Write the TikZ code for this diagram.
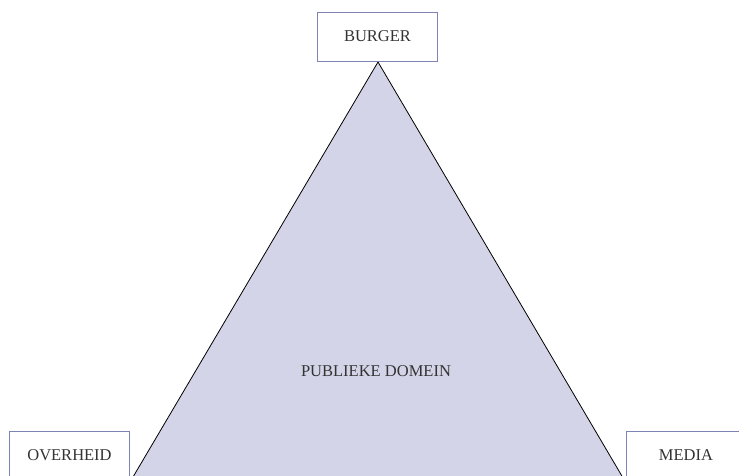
\documentclass[tikz,border=0pt]{standalone}
\usepackage{fontspec}
\setmainfont{Liberation Serif}
\usepackage{xcolor}
\usepackage{tikz}
\usetikzlibrary{positioning}

\definecolor{boxline}{HTML}{7E83B6}
\definecolor{domainfill}{HTML}{D3D4E7}
\definecolor{labeltext}{HTML}{333333}

\tikzset{
    actor/.style={
        draw=boxline,
        line width=0.8pt,
        fill=white,
        minimum width=120pt,
        minimum height=49pt,
        inner sep=0pt,
        text=labeltext,
        font=\fontsize{16.5}{18}\selectfont
    }
}

\begin{document}
\begin{tikzpicture}[x=1pt,y=-1pt]
                \useasboundingbox (0,0) rectangle (739,476);
                \clip (0,0) rectangle (739,476);

                % publieke domein
                \coordinate (top) at (378,62);
                \coordinate (left) at (133,477);
                \coordinate (right) at (622.5,477);

                \fill[fill=domainfill] (top) -- (left) -- (right) -- cycle;
                \draw[
                    line width=0.8pt
                    ] (left) -- (top) -- (right);

                \node[text=labeltext, font=\fontsize{16.5}{18}\selectfont] (domein) at (376,371) {PUBLIEKE DOMEIN};

                % actoren
                \node[actor] (burger) at (377.5,36.5) {BURGER};
                \node[actor] (overheid) at (69.5,455.5) {OVERHEID};
                \node[actor] (media) at (686,455.5) {MEDIA};

            \end{tikzpicture}
\end{document}
